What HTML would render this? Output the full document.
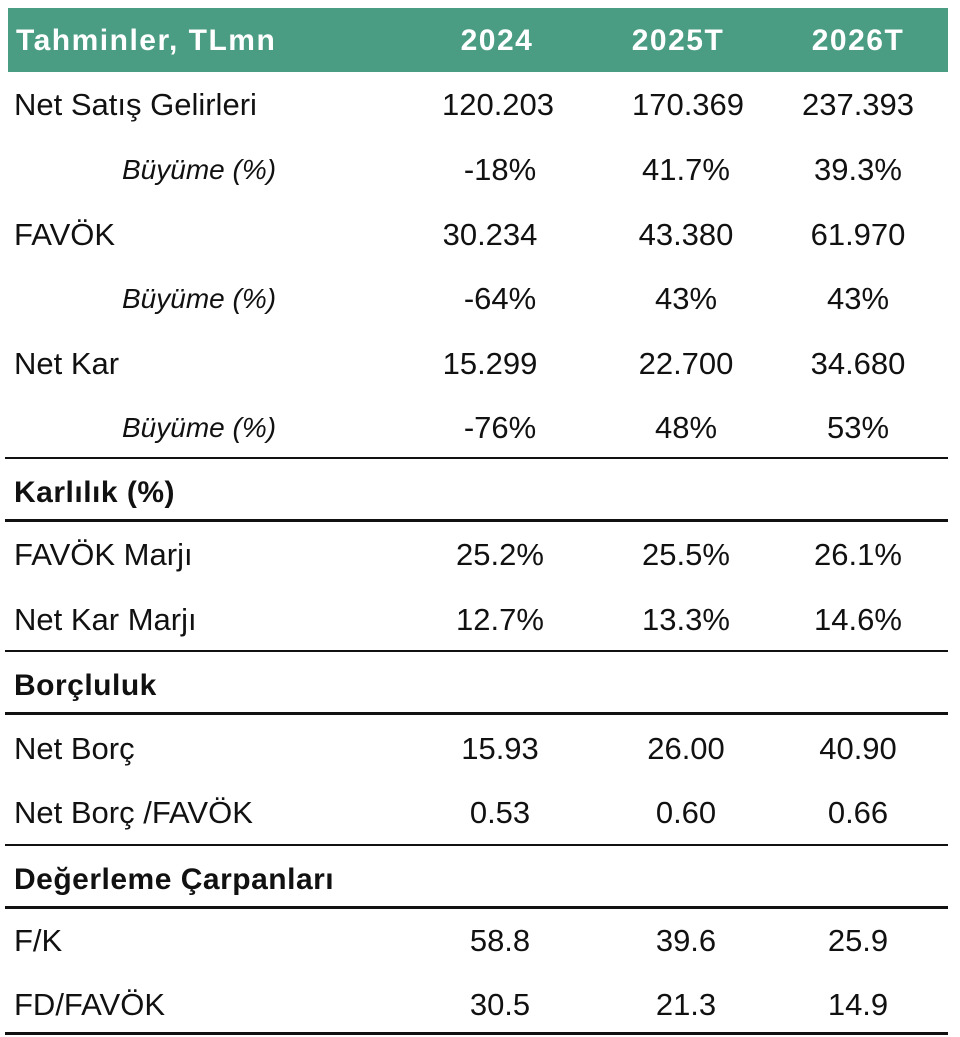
<!DOCTYPE html>
<html><head><meta charset="utf-8"><style>
body{margin:0;width:960px;height:1037px;background:#fff;position:relative;font-family:"Liberation Sans",sans-serif;color:#111;overflow:hidden}
.h{position:absolute;left:8px;top:8px;width:940px;height:64px;background:#4a9c82}
.t{position:absolute;font-size:31px;line-height:36px;white-space:nowrap;transform:translateY(-50%)}
.c{transform:translate(-50%,-50%)}
.w{color:#fff;font-weight:bold;font-size:30px;letter-spacing:1.5px}
.b{font-weight:bold;font-size:30px;letter-spacing:0.5px}
.i{font-style:italic;font-size:28px}
.l{position:absolute;left:5px;width:943px;background:#111}
</style></head><body>
<div class="h"></div>
<div class="t w" style="left:16px;top:41px">Tahminler, TLmn</div>
<div class="t w c" style="left:497px;top:41px">2024</div>
<div class="t w c" style="left:678px;top:41px">2025T</div>
<div class="t w c" style="left:858px;top:41px">2026T</div>

<div class="t" style="left:14px;top:105px">Net Satış Gelirleri</div>
<div class="t c" style="left:498px;top:105px">120.203</div>
<div class="t c" style="left:688px;top:105px">170.369</div>
<div class="t c" style="left:858px;top:105px">237.393</div>

<div class="t i" style="left:122px;top:170px">Büyüme (%)</div>
<div class="t c" style="left:500px;top:170px">-18%</div>
<div class="t c" style="left:686px;top:170px">41.7%</div>
<div class="t c" style="left:858px;top:170px">39.3%</div>

<div class="t" style="left:14px;top:235px">FAVÖK</div>
<div class="t c" style="left:490px;top:235px">30.234</div>
<div class="t c" style="left:686px;top:235px">43.380</div>
<div class="t c" style="left:858px;top:235px">61.970</div>

<div class="t i" style="left:122px;top:299px">Büyüme (%)</div>
<div class="t c" style="left:500px;top:299px">-64%</div>
<div class="t c" style="left:686px;top:299px">43%</div>
<div class="t c" style="left:858px;top:299px">43%</div>

<div class="t" style="left:14px;top:364px">Net Kar</div>
<div class="t c" style="left:490px;top:364px">15.299</div>
<div class="t c" style="left:686px;top:364px">22.700</div>
<div class="t c" style="left:858px;top:364px">34.680</div>

<div class="t i" style="left:122px;top:428px">Büyüme (%)</div>
<div class="t c" style="left:500px;top:428px">-76%</div>
<div class="t c" style="left:686px;top:428px">48%</div>
<div class="t c" style="left:858px;top:428px">53%</div>

<div class="l" style="top:457px;height:2px"></div>
<div class="t b" style="left:14px;top:493px">Karlılık (%)</div>
<div class="l" style="top:519px;height:3px"></div>

<div class="t" style="left:14px;top:555px">FAVÖK Marjı</div>
<div class="t c" style="left:500px;top:555px">25.2%</div>
<div class="t c" style="left:686px;top:555px">25.5%</div>
<div class="t c" style="left:858px;top:555px">26.1%</div>

<div class="t" style="left:14px;top:620px">Net Kar Marjı</div>
<div class="t c" style="left:500px;top:620px">12.7%</div>
<div class="t c" style="left:686px;top:620px">13.3%</div>
<div class="t c" style="left:858px;top:620px">14.6%</div>

<div class="l" style="top:650px;height:2px"></div>
<div class="t b" style="left:14px;top:686px">Borçluluk</div>
<div class="l" style="top:712px;height:3px"></div>

<div class="t" style="left:14px;top:749px">Net Borç</div>
<div class="t c" style="left:500px;top:749px">15.93</div>
<div class="t c" style="left:686px;top:749px">26.00</div>
<div class="t c" style="left:858px;top:749px">40.90</div>

<div class="t" style="left:14px;top:813px">Net Borç /FAVÖK</div>
<div class="t c" style="left:500px;top:813px">0.53</div>
<div class="t c" style="left:686px;top:813px">0.60</div>
<div class="t c" style="left:858px;top:813px">0.66</div>

<div class="l" style="top:844px;height:2px"></div>
<div class="t b" style="left:14px;top:880px">Değerleme Çarpanları</div>
<div class="l" style="top:906px;height:3px"></div>

<div class="t" style="left:14px;top:941px">F/K</div>
<div class="t c" style="left:500px;top:941px">58.8</div>
<div class="t c" style="left:686px;top:941px">39.6</div>
<div class="t c" style="left:858px;top:941px">25.9</div>

<div class="t" style="left:14px;top:1005px">FD/FAVÖK</div>
<div class="t c" style="left:500px;top:1005px">30.5</div>
<div class="t c" style="left:686px;top:1005px">21.3</div>
<div class="t c" style="left:858px;top:1005px">14.9</div>

<div class="l" style="top:1032px;height:3px"></div>
</body></html>
